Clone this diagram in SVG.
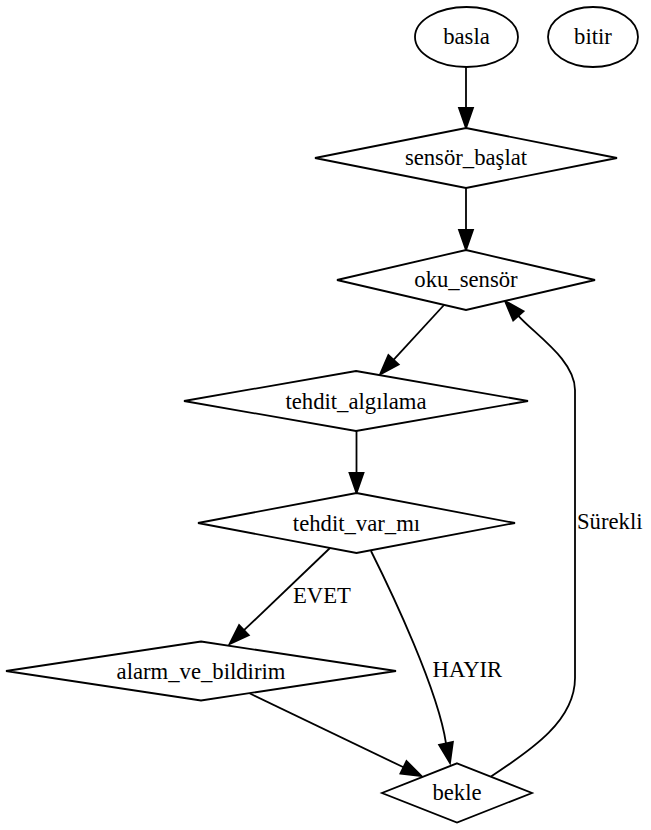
<svg xmlns="http://www.w3.org/2000/svg" width="651" height="830" viewBox="0 0 651 830">
<style>
.n{fill:#fff;stroke:#000;stroke-width:1.8}
.e{fill:none;stroke:#000;stroke-width:1.8}
.a{fill:#000;stroke:#000;stroke-width:1.8}
text{font-family:"Liberation Serif","Times New Roman",serif;font-size:22.7px;fill:#000}
.c{text-anchor:middle}
</style>
<rect width="651" height="830" fill="#fff"/>
<g id="edges">
<g id="e1"><path class="e" d="M466,67 L466,108"/><polygon class="a" points="459,108 466,128 473,108"/></g>
<g id="e2"><path class="e" d="M466,188 L466,230"/><polygon class="a" points="459,230 466,250 473,230"/></g>
<g id="e3"><path class="e" d="M444,305 L393.5,359.8"/><polygon class="a" points="398.7,364.5 380,374.5 388.4,355.1"/></g>
<g id="e4"><path class="e" d="M356.5,431 L356.5,473"/><polygon class="a" points="349.5,473 356.5,493 363.5,473"/></g>
<g id="e5"><path class="e" d="M330,548 L244,630.2"/><polygon class="a" points="248.8,635.2 229.5,644 239.1,625.1"/><text x="293" y="603">EVET</text></g>
<g id="e6"><path class="e" d="M371,551 C392,593 438,690 446,743.4"/><polygon class="a" points="452.9,742 450,763 439.1,744.8"/><text x="432.5" y="677">HAYIR</text></g>
<g id="e7"><path class="e" d="M249.5,693.3 L403.5,767.3"/><polygon class="a" points="400.4,773.6 421.5,776 406.5,761"/></g>
<g id="e8"><path class="e" d="M491,776.5 C533,749 575,720 575,678 L575,390 C575,360 535,334.5 518.4,315.9"/><polygon class="a" points="523.6,311.2 505,301 513.2,320.6"/><text x="577" y="528.5">Sürekli</text></g>
</g>
<g id="basla"><ellipse class="n" cx="466.5" cy="37" rx="51.5" ry="30"/><text class="c" x="466.5" y="44">basla</text></g>
<g id="bitir"><ellipse class="n" cx="593" cy="37" rx="45" ry="30"/><text class="c" x="593" y="44">bitir</text></g>
<g id="sensor_baslat"><polygon class="n" points="466,128 617,158 466,188 315,158"/><text class="c" x="466" y="165">sensör_başlat</text></g>
<g id="oku_sensor"><polygon class="n" points="466,250 595,280 466,310 337,280"/><text class="c" x="466" y="287">oku_sensör</text></g>
<g id="tehdit_algilama"><polygon class="n" points="356,371 528,401 356,431 184,401"/><text class="c" x="356" y="408.5">tehdit_algılama</text></g>
<g id="tehdit_var_mi"><polygon class="n" points="356.5,493 515,523 356.5,553 198,523"/><text class="c" x="356.5" y="530.5">tehdit_var_mı</text></g>
<g id="alarm_ve_bildirim"><polygon class="n" points="201,641.5 396,671 201,700.5 6,671"/><text class="c" x="201" y="679">alarm_ve_bildirim</text></g>
<g id="bekle"><polygon class="n" points="457,763.3 532,793 457,822.5 382,793"/><text class="c" x="457" y="800">bekle</text></g>
</svg>
